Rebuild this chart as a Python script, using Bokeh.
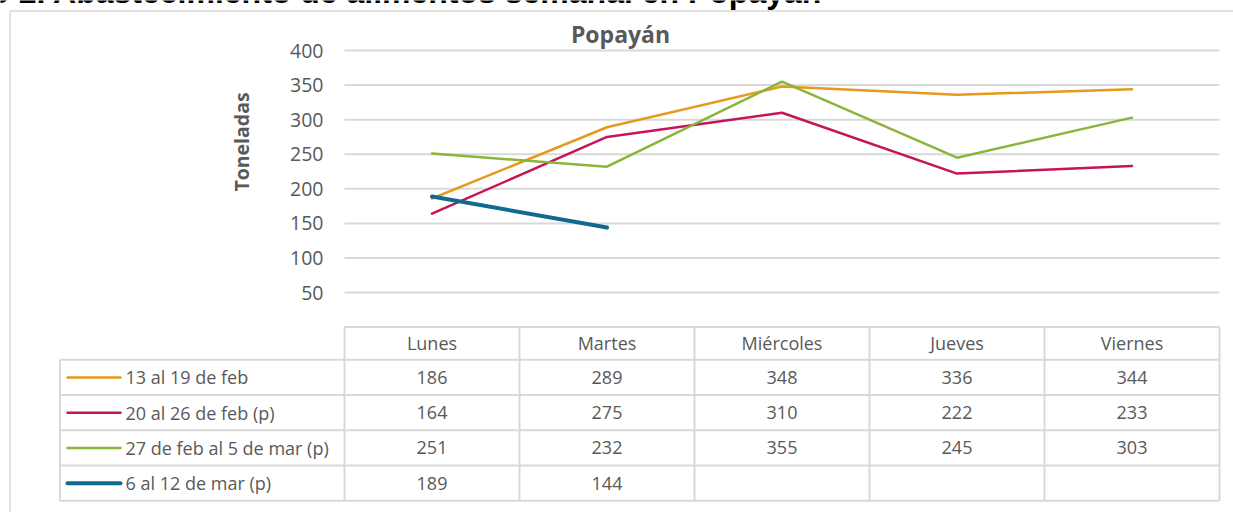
import math
from bokeh.plotting import figure
from bokeh.models import Range1d
from bokeh.core.properties import value
from bokeh.embed import file_html
from bokeh.resources import INLINE

# ---------------- data ----------------
days = ["Lunes", "Martes", "Miércoles", "Jueves", "Viernes"]
series_names = ["13 al 19 de feb", "20 al 26 de feb (p)",
                "27 de feb al 5 de mar (p)", "6 al 12 de mar (p)"]
s1 = [186, 289, 348, 336, 344]
s2 = [164, 275, 310, 222, 233]
s3 = [251, 232, 355, 245, 303]
s4 = [189, 144, None, None, None]
y_ticks = [50, 100, 150, 200, 250, 300, 350, 400]
chart_title = "Popayán"
page_title = "Gráfico 2. Abastecimiento de alimentos semanal en Popayán"
y_label = "Toneladas"

series = [s1, s2, s3, s4]
colors = ["#E59A1C", "#C6145C", "#8DB43A", "#0F6A8E"]
widths = [2.5, 2.5, 2.5, 4]

# ---------------- layout (pixel -> data helpers) ----------------
W, H = 1233, 512
COL_PX = 175.0            # px per category column
X0_PX = 431.5             # px centre of first category
PX = 50 / 34.571          # value units per vertical px
Y0_PX = 326.6             # px of value 0


def xd(px):
    return (px - X0_PX) / COL_PX


def yd(py):
    return (Y0_PX - py) * PX


p = figure(width=W, height=H, output_backend="svg", toolbar_location=None,
           x_range=Range1d(xd(0), xd(W)), y_range=Range1d(yd(H), yd(0)),
           x_axis_location=None, y_axis_location=None, min_border=0,
           styles={"position": "absolute", "left": "0px", "top": "0px"})
p.grid.visible = False
p.outline_line_color = None
p.background_fill_color = "white"
p.border_fill_color = "white"

GRID = "#d9d9d9"
TXT = "#595959"
FONT = value("Open Sans")
n = len(days)
xs = list(range(n))
left_edge = xs[0] - 0.5
right_edge = xs[-1] + 0.5

# outer chart frame (top and left edge visible)
p.segment(x0=[xd(9.5), xd(9.5)], y0=[yd(10.5), yd(10.5)],
          x1=[xd(W + 10), xd(9.5)], y1=[yd(10.5), yd(H + 10)],
          line_color=GRID, line_width=1.5)

# page title (cropped at top, as in the source image)
p.text(x=[xd(822)], y=[yd(-9)], text=[page_title], text_align="right",
       text_baseline="alphabetic", text_font=value("Liberation Sans"),
       text_font_style="bold", text_font_size="32px", text_color="#000000")

# gridlines
p.segment(x0=[left_edge] * len(y_ticks), y0=y_ticks,
          x1=[right_edge] * len(y_ticks), y1=y_ticks,
          line_color=GRID, line_width=2)

# y tick labels
p.text(x=[left_edge] * len(y_ticks), y=y_ticks,
       text=[str(t) for t in y_ticks], x_offset=-21,
       text_align="right", text_baseline="middle", text_font=FONT,
       text_font_size="19.5px", text_color=TXT)

# y axis label
p.text(x=[xd(241)], y=[yd(141.5)], text=[y_label], angle=math.pi / 2,
       text_align="center", text_baseline="middle", text_font=FONT,
       text_font_style="bold", text_font_size="19.5px", text_color=TXT)

# chart title
p.text(x=[xd(620)], y=[yd(33.5)], text=[chart_title], text_align="center",
       text_baseline="middle", text_font=FONT, text_font_style="bold",
       text_font_size="23px", text_color=TXT)

# ---------------- lines ----------------
for vals, c, w in zip(series, colors, widths):
    xx = [x for x, v in zip(xs, vals) if v is not None]
    yy = [v for v in vals if v is not None]
    p.line(xx, yy, line_color=c, line_width=w, line_cap="round",
           line_join="round")

# ---------------- data table ----------------
HEAD_PX = 32.7
ROW_PX = 35.25
legend_left = xd(59.5)
top = 0.0
head_bottom = top - HEAD_PX * PX
row_tops = [head_bottom - i * ROW_PX * PX for i in range(len(series) + 1)]
bottom = row_tops[-1]

# horizontal lines
p.segment(x0=[left_edge], y0=[top], x1=[right_edge], y1=[top],
          line_color=GRID, line_width=2)
p.segment(x0=[legend_left] * len(row_tops), y0=row_tops,
          x1=[right_edge] * len(row_tops), y1=row_tops,
          line_color=GRID, line_width=2)
# vertical lines
vx = [x - 0.5 for x in xs] + [right_edge]
p.segment(x0=vx, y0=[top] * len(vx), x1=vx, y1=[bottom] * len(vx),
          line_color=GRID, line_width=2)
p.segment(x0=[legend_left], y0=[head_bottom], x1=[legend_left], y1=[bottom],
          line_color=GRID, line_width=2)

TABLE_FS = "18px"
# header text
p.text(x=xs, y=[(top + head_bottom) / 2] * n, text=days,
       text_align="center", text_baseline="middle", text_font=FONT,
       text_font_size=TABLE_FS, text_color=TXT)

row_mid = [(row_tops[i] + row_tops[i + 1]) / 2 for i in range(len(series))]

# cell values
cx, cy, ct = [], [], []
for i, vals in enumerate(series):
    for x, v in zip(xs, vals):
        if v is not None:
            cx.append(x)
            cy.append(row_mid[i])
            ct.append(str(v))
p.text(x=cx, y=cy, text=ct, text_align="center", text_baseline="middle",
       text_font=FONT, text_font_size=TABLE_FS, text_color=TXT)

# legend keys and names
sw0, sw1 = xd(67), xd(120)
for i, (c, w) in enumerate(zip(colors, widths)):
    p.segment(x0=[sw0], y0=[row_mid[i]], x1=[sw1], y1=[row_mid[i]],
              line_color=c, line_width=w, line_cap="round")
p.text(x=[xd(125)] * len(series), y=row_mid, text=series_names,
       text_align="left", text_baseline="middle", text_font=FONT,
       text_font_size=TABLE_FS, text_color=TXT)

open("out.html", "w").write(file_html(p, INLINE))
